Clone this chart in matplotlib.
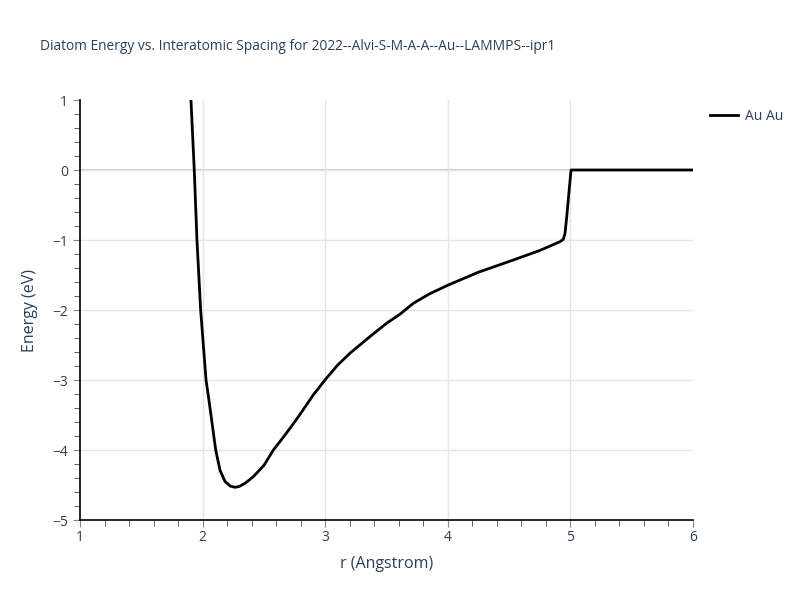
import numpy as np
import matplotlib
matplotlib.use('Agg')
import matplotlib.pyplot as plt
from matplotlib.ticker import MultipleLocator

plt.rcParams['font.family'] = ['Open Sans', 'DejaVu Sans']

# values
r = [1.905, 1.932, 1.954, 1.984, 2.028, 2.052, 2.072, 2.107, 2.142, 2.183, 2.225,
     2.264, 2.30, 2.346, 2.414, 2.50, 2.577, 2.631, 2.713, 2.795, 2.90,
     2.998, 3.10, 3.2, 3.365, 3.50, 3.61, 3.719, 3.85, 4.004, 4.25, 4.534, 4.75,
     4.915, 4.942, 4.956, 4.97, 5.005, 5.5, 6.0]
energy = [1.0, 0.0, -1.0, -2.0, -3.0, -3.29, -3.55, -4.0, -4.29, -4.45, -4.515,
          -4.533, -4.52, -4.476, -4.38, -4.22, -4.0, -3.88, -3.69, -3.49, -3.22,
          -3.0, -2.79, -2.62, -2.38, -2.19, -2.06, -1.904, -1.77, -1.643, -1.46, -1.286, -1.15,
          -1.024, -0.99, -0.905, -0.67, 0.0, 0.0, 0.0]

title = "Diatom Energy vs. Interatomic Spacing for 2022--Alvi-S-M-A-A--Au--LAMMPS--ipr1"
txt = '#2a3f5f'

fig = plt.figure(figsize=(8, 6), dpi=100)
ax = fig.add_axes([80 / 800, 80 / 600, 613 / 800, 420 / 600])

ax.plot(r, energy, color='black', lw=2, label='Au Au', zorder=3)
ax.axhline(0, color='#cccccc', lw=1.5, zorder=1)

ax.set_xlim(1, 6)
ax.set_ylim(-5, 1)
ax.xaxis.set_major_locator(MultipleLocator(1))
ax.xaxis.set_minor_locator(MultipleLocator(0.2))
ax.yaxis.set_major_locator(MultipleLocator(1))
ax.yaxis.set_minor_locator(MultipleLocator(0.2))
ax.grid(True, which='major', color='#e5e5e5', lw=1, zorder=0)

# no grid lines along the edges of the plot area
fig.canvas.draw()
for tick, loc in zip(ax.xaxis.get_major_ticks(), ax.get_xticks()):
    if loc <= 1 or loc >= 6:
        tick.gridline.set_visible(False)
for tick, loc in zip(ax.yaxis.get_major_ticks(), ax.get_yticks()):
    if loc <= -5 or loc >= 1:
        tick.gridline.set_visible(False)

for s in ['top', 'right']:
    ax.spines[s].set_visible(False)
for s in ['left', 'bottom']:
    ax.spines[s].set_color('black')
    ax.spines[s].set_linewidth(1.2)

ax.tick_params(which='major', length=5, color='#888888', labelsize=10, labelcolor=txt, direction='out')
ax.tick_params(which='minor', length=4, color='#444444', direction='out')
ax.tick_params(axis='x', pad=2)

ax.set_xlabel('r (Angstrom)', fontsize=11.5, color=txt, labelpad=8)
ax.set_ylabel('Energy (eV)', fontsize=11.5, color=txt, labelpad=10)

fig.text(40 / 800, 1 - 46 / 600, title, fontsize=9.9, color=txt, va='center', ha='left')

leg = ax.legend(loc='upper left', bbox_to_anchor=(1.008, 1.008), frameon=False,
                fontsize=10, handlelength=2.0, handletextpad=0.5, labelcolor=txt)

fig.savefig('out.png', dpi=100)
